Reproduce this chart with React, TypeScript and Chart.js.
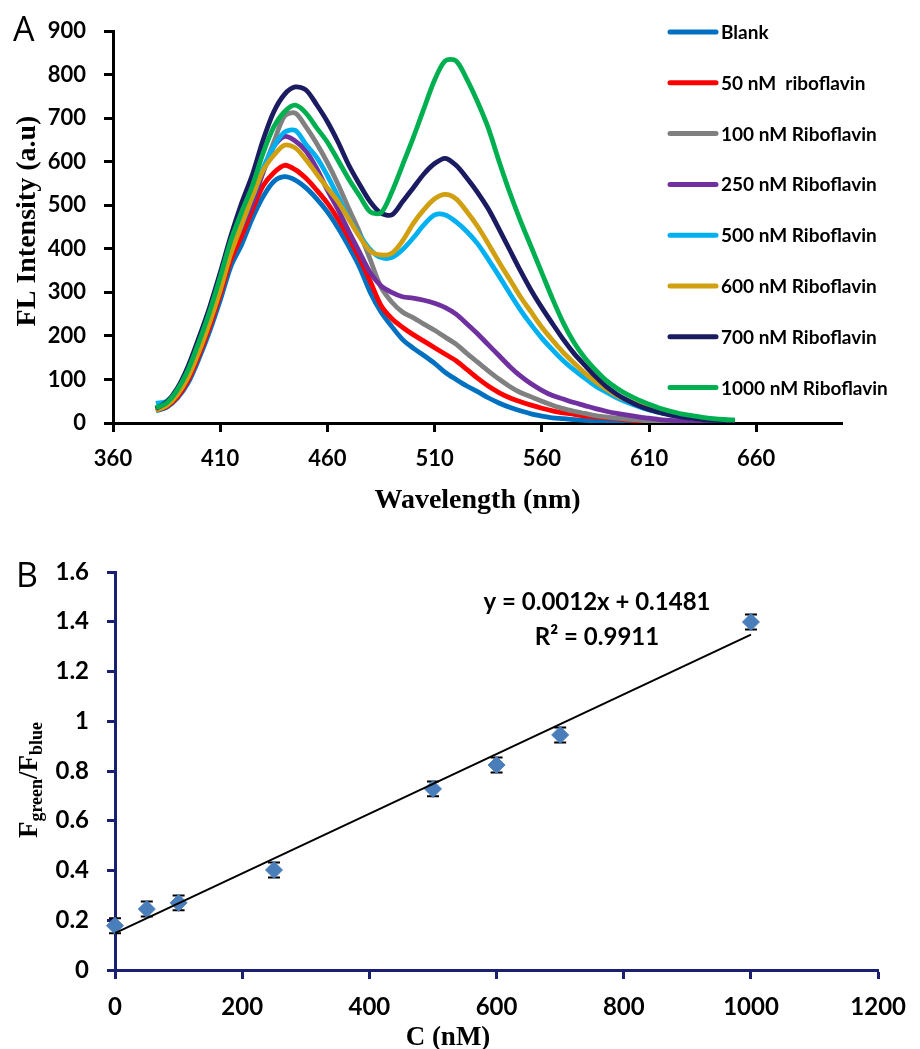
import React, { useEffect, useRef } from 'react';
import { Chart, registerables } from 'chart.js';

Chart.register(...registerables);

// ---------- Panel A data ----------
const wavelengths = [
  380, 385, 390, 395, 400, 405, 410, 415, 420, 425, 430, 435, 440, 445, 450, 455, 460, 465, 470, 475,
  480, 485, 490, 495, 500, 505, 510, 515, 520, 525, 530, 535, 540, 545, 550, 555, 560, 565, 570, 575,
  580, 585, 590, 595, 600, 605, 610, 615, 620, 625, 630, 635, 640, 645, 650,
];

const blank = [
  28, 36, 57, 92, 147, 210, 282, 360, 410, 470, 520, 555, 566, 558, 540, 515, 485, 448, 405, 358,
  300, 255, 222, 192, 172, 155, 137, 116, 100, 85, 72, 58, 46, 36, 28, 21, 16, 12, 10, 8,
  6, 5, 4, 3, 2, 2, 1, 1, 1, 1, 0, 0, 0, 0, 0,
];
const rf50 = [
  30, 38, 60, 98, 155, 220, 295, 375, 430, 490, 545, 575, 592, 582, 562, 535, 505, 468, 425, 378,
  325, 270, 240, 220, 203, 188, 173, 158, 143, 123, 103, 85, 70, 58, 49, 41, 34, 28, 23, 20,
  16, 14, 12, 10, 7, 5, 4, 3, 2, 2, 1, 1, 1, 1, 0,
];
const rf100 = [
  31, 42, 68, 110, 170, 238, 315, 400, 455, 510, 580, 645, 705, 712, 680, 642, 598, 548, 492, 438,
  375, 312, 278, 255, 242, 227, 213, 197, 181, 160, 140, 120, 101, 84, 70, 60, 50, 41, 33, 27,
  22, 17, 14, 11, 9, 7, 5, 4, 3, 2, 2, 1, 1, 1, 1,
];
const rf250 = [
  31, 42, 68, 108, 168, 235, 312, 395, 450, 505, 575, 635, 658, 648, 625, 585, 535, 490, 440, 392,
  345, 315, 300, 290, 287, 282, 275, 265, 250, 228, 205, 180, 155, 130, 108, 90, 75, 63, 55, 47,
  40, 33, 27, 22, 18, 14, 11, 8, 6, 5, 4, 3, 2, 2, 1,
];
const rf500 = [
  45, 50, 72, 115, 175, 245, 325, 415, 470, 520, 585, 635, 668, 672, 640, 610, 568, 520, 470, 432,
  398, 380, 380, 398, 425, 455, 478, 478, 462, 440, 412, 376, 338, 298, 260, 226, 195, 168, 143, 122,
  103, 85, 71, 58, 47, 38, 30, 24, 19, 15, 12, 9, 7, 5, 4,
];
const rf600 = [
  29, 40, 65, 105, 163, 230, 305, 390, 455, 520, 580, 615, 638, 632, 605, 572, 540, 508, 468, 428,
  395, 386, 390, 418, 458, 490, 515, 525, 515, 486, 452, 412, 370, 330, 290, 255, 220, 190, 162, 138,
  115, 95, 78, 63, 52, 42, 33, 26, 20, 16, 12, 9, 7, 5, 4,
];
const rf700 = [
  33, 48, 80, 130, 195, 265, 345, 430, 505, 570, 650, 715, 755, 772, 765, 731, 692, 645, 592, 548,
  508, 482, 478, 508, 540, 572, 596, 608, 592, 563, 530, 492, 446, 398, 350, 305, 265, 228, 192, 160,
  133, 107, 84, 66, 52, 40, 31, 24, 18, 14, 11, 8, 6, 5, 4,
];
const rf1000 = [
  35, 46, 76, 122, 185, 255, 335, 420, 485, 545, 620, 680, 715, 730, 712, 678, 645, 603, 560, 522,
  485, 483, 530, 592, 655, 722, 788, 832, 832, 790, 738, 678, 602, 530, 465, 405, 345, 285, 230, 185,
  150, 122, 98, 80, 65, 53, 43, 34, 27, 21, 17, 13, 10, 8, 7,
];

const seriesValues = [blank, rf50, rf100, rf250, rf500, rf600, rf700, rf1000];
const seriesLabels = [
  'Blank',
  '50 nM  riboflavin',
  '100 nM Riboflavin',
  '250 nM Riboflavin',
  '500 nM Riboflavin',
  '600 nM Riboflavin',
  '700 nM Riboflavin',
  '1000 nM Riboflavin',
];
const seriesColors = ['#0070C0', '#FF0000', '#808080', '#7030A0', '#00B0F0', '#D0A010', '#1B1B62', '#00B050'];
const wavelengthTicks = [360, 410, 460, 510, 560, 610, 660];

// ---------- Panel B data ----------
const concentrations = [0, 50, 100, 250, 500, 600, 700, 1000];
const ratios = [0.178, 0.245, 0.27, 0.402, 0.728, 0.824, 0.945, 1.399];
const ratioErrors = [0.03, 0.03, 0.03, 0.03, 0.03, 0.03, 0.03, 0.03];
const fitX = [0, 1000];
const fitY = [0.148, 1.348];

const SERIF = '"Liberation Serif", "Times New Roman", serif';
const SANS = 'Lato, "Open Sans", sans-serif';
const NAVY = '#1A1F71';

function TopChart() {
  const ref = useRef<HTMLCanvasElement>(null);
  useEffect(() => {
    const canvas = ref.current;
    if (!canvas) return;
    const datasets = seriesValues.map((vals, i) => ({
      label: seriesLabels[i],
      data: wavelengths.map((w, j) => ({ x: w, y: vals[j] })),
      borderColor: seriesColors[i],
      backgroundColor: seriesColors[i],
      borderWidth: 4.8,
      pointRadius: 0,
      tension: 0.3,
      fill: false,
      order: seriesValues.length - 1 - i,
    }));
    const textPlugin = {
      id: 'panelAText',
      afterDraw(chart: any) {
        const ctx = chart.ctx;
        ctx.save();
        ctx.fillStyle = '#000';
        ctx.font = '400 34px "Open Sans", sans-serif';
        ctx.textAlign = 'left';
        ctx.textBaseline = 'alphabetic';
        ctx.fillText('A', 13, 41);
        ctx.font = `bold 28px ${SERIF}`;
        ctx.textAlign = 'center';
        ctx.fillText('Wavelength (nm)', (chart.chartArea.left + chart.chartArea.right) / 2, 508);
        ctx.save();
        ctx.translate(35, 221);
        ctx.rotate(-Math.PI / 2);
        ctx.fillText('FL Intensity (a.u)', 0, 0);
        ctx.restore();
        ctx.font = `bold 19px ${SANS}`;
        ctx.textAlign = 'left';
        seriesLabels.forEach((lab, i) => {
          const cy = 32 + i * 50.8;
          ctx.strokeStyle = seriesColors[i];
          ctx.lineWidth = 5;
          ctx.lineCap = 'round';
          ctx.beginPath();
          ctx.moveTo(670, cy);
          ctx.lineTo(716, cy);
          ctx.stroke();
          ctx.fillStyle = '#000';
          ctx.fillText(lab, 721, cy + 7);
        });
        ctx.restore();
      },
    };
    const chart = new Chart(canvas, {
      type: 'line',
      data: { datasets },
      options: {
        responsive: false,
        animation: false,
        events: [],
        layout: { padding: { left: 0, right: 78, top: 29, bottom: 0 } },
        plugins: { legend: { display: false }, tooltip: { enabled: false }, title: { display: false } },
        scales: {
          x: {
            type: 'linear',
            min: 360,
            max: 700,
            afterBuildTicks: (s: any) => {
              s.ticks = wavelengthTicks.map((v) => ({ value: v }));
            },
            afterFit: (s: any) => {
              s.height = 92;
            },
            grid: { drawOnChartArea: false, drawTicks: true, tickLength: 9, tickWidth: 3, tickColor: '#000' },
            border: { display: true, color: '#000', width: 3 },
            ticks: {
              color: '#000',
              font: { family: SANS, size: 22, weight: 'bold' },
              padding: 14,
              maxRotation: 0,
              autoSkip: false,
              callback: (v: any) => String(v),
            },
          },
          y: {
            type: 'linear',
            min: 0,
            max: 900,
            afterFit: (s: any) => {
              s.width = 113;
            },
            grid: { drawOnChartArea: false, drawTicks: true, tickLength: 9, tickWidth: 3, tickColor: '#000' },
            border: { display: true, color: '#000', width: 3 },
            ticks: {
              stepSize: 100,
              color: '#000',
              font: { family: SANS, size: 22, weight: 'bold' },
              padding: 18,
              callback: (v: any) => String(v),
            },
          },
        },
      },
      plugins: [textPlugin],
    } as any);
    return () => chart.destroy();
  }, []);
  return <canvas ref={ref} width={920} height={515} style={{ position: 'absolute', left: 0, top: 0 }} />;
}

function BottomChart() {
  const ref = useRef<HTMLCanvasElement>(null);
  useEffect(() => {
    const canvas = ref.current;
    if (!canvas) return;
    const errorPlugin = {
      id: 'errorBars',
      beforeDatasetsDraw(chart: any) {
        const ctx = chart.ctx;
        const xs = chart.scales.x;
        const ys = chart.scales.y;
        ctx.save();
        ctx.strokeStyle = '#000';
        ctx.lineWidth = 2;
        concentrations.forEach((c, i) => {
          const px = xs.getPixelForValue(c);
          const top = ys.getPixelForValue(ratios[i] + ratioErrors[i]);
          const bot = ys.getPixelForValue(ratios[i] - ratioErrors[i]);
          ctx.beginPath();
          ctx.moveTo(px, top);
          ctx.lineTo(px, bot);
          ctx.moveTo(px - 6, top);
          ctx.lineTo(px + 6, top);
          ctx.moveTo(px - 6, bot);
          ctx.lineTo(px + 6, bot);
          ctx.stroke();
        });
        ctx.restore();
      },
    };
    const textPlugin = {
      id: 'panelBText',
      afterDraw(chart: any) {
        const ctx = chart.ctx;
        ctx.save();
        ctx.fillStyle = '#000';
        ctx.font = '400 34px "Open Sans", sans-serif';
        ctx.textAlign = 'left';
        ctx.textBaseline = 'alphabetic';
        ctx.fillText('B', 16, 72);
        ctx.font = `bold 24px ${SANS}`;
        ctx.textAlign = 'center';
        ctx.fillText('y = 0.0012x + 0.1481', 597, 95);
        ctx.fillText('R\u00B2 = 0.9911', 597, 130);
        ctx.font = `bold 27px ${SERIF}`;
        ctx.fillText('C (nM)', 448, 530);
        const parts: [string, number, number][] = [
          ['F', 27, 0],
          ['green', 18, 5],
          ['/', 27, 0],
          ['F', 27, 0],
          ['blue', 18, 5],
        ];
        ctx.textAlign = 'left';
        let total = 0;
        const widths = parts.map(([t, sz]) => {
          ctx.font = `bold ${sz}px ${SERIF}`;
          const w = ctx.measureText(t).width;
          total += w;
          return w;
        });
        ctx.save();
        ctx.translate(37, 265);
        ctx.rotate(-Math.PI / 2);
        let x = -total / 2;
        parts.forEach(([t, sz, off], i) => {
          ctx.font = `bold ${sz}px ${SERIF}`;
          ctx.fillText(t, x, off);
          x += widths[i];
        });
        ctx.restore();
        ctx.restore();
      },
    };
    const chart = new Chart(canvas, {
      type: 'scatter',
      data: {
        datasets: [
          {
            type: 'line',
            label: 'Linear fit',
            data: fitX.map((x, i) => ({ x, y: fitY[i] })),
            borderColor: '#000',
            borderWidth: 2,
            pointRadius: 0,
            fill: false,
            clip: false,
          },
          {
            type: 'scatter',
            label: 'Ratio',
            data: concentrations.map((x, i) => ({ x, y: ratios[i] })),
            pointStyle: 'rectRot',
            pointRadius: 8.5,
            backgroundColor: '#4A7EBB',
            borderColor: '#4A7EBB',
            borderWidth: 1,
            clip: false,
          },
        ],
      },
      options: {
        responsive: false,
        animation: false,
        events: [],
        layout: { padding: { left: 0, right: 29, top: 57, bottom: 0 } },
        plugins: { legend: { display: false }, tooltip: { enabled: false }, title: { display: false } },
        scales: {
          x: {
            type: 'linear',
            min: 0,
            max: 1200,
            afterFit: (s: any) => {
              s.height = 79;
            },
            grid: { drawOnChartArea: false, drawTicks: true, tickLength: 9, tickWidth: 3, tickColor: NAVY },
            border: { display: true, color: NAVY, width: 3 },
            ticks: {
              stepSize: 200,
              color: '#000',
              font: { family: SANS, size: 24, weight: 'bold' },
              padding: 14,
              maxRotation: 0,
              autoSkip: false,
              callback: (v: any) => String(v),
            },
          },
          y: {
            type: 'linear',
            min: 0,
            max: 1.6,
            afterFit: (s: any) => {
              s.width = 115;
            },
            grid: { drawOnChartArea: false, drawTicks: true, tickLength: 8, tickWidth: 3, tickColor: NAVY },
            border: { display: true, color: NAVY, width: 3 },
            ticks: {
              stepSize: 0.2,
              color: '#000',
              font: { family: SANS, size: 24, weight: 'bold' },
              padding: 18,
              callback: (v: any) => String(Math.round(Number(v) * 10) / 10),
            },
          },
        },
      },
      plugins: [errorPlugin, textPlugin],
    } as any);
    return () => chart.destroy();
  }, []);
  return <canvas ref={ref} width={920} height={534} style={{ position: 'absolute', left: 0, top: 515 }} />;
}

export default function App() {
  return (
    <div style={{ position: 'absolute', left: 0, top: 0, width: 920, height: 1049, background: '#fff', overflow: 'hidden' }}>
      <TopChart />
      <BottomChart />
    </div>
  );
}
